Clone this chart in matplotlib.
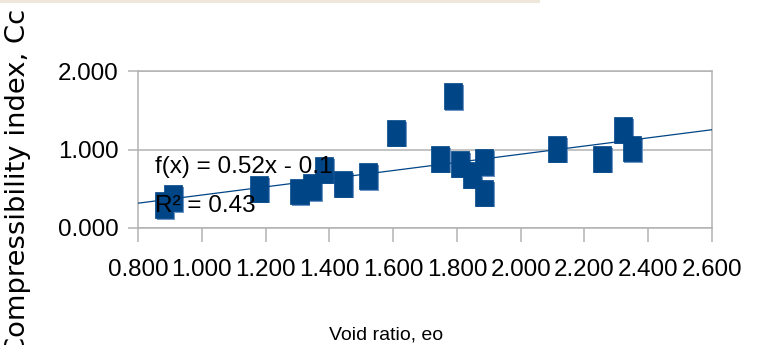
import matplotlib
matplotlib.use('Agg')
import matplotlib.pyplot as plt
import matplotlib.patheffects as pe
from matplotlib import font_manager as fm
from matplotlib.patches import Rectangle

# data
void_ratio = [0.882, 0.910, 1.179, 1.306, 1.345, 1.383, 1.443, 1.521, 1.609, 1.747,
              1.787, 1.809, 1.847, 1.885, 1.885, 2.113, 2.255, 2.320, 2.349]
cc = [0.29, 0.38, 0.50, 0.465, 0.52, 0.74, 0.56, 0.66, 1.21, 0.88,
      1.68, 0.815, 0.675, 0.84, 0.446, 1.006, 0.88, 1.25, 1.01]
trend_slope = 0.52
trend_icpt = -0.1
x_ticks = [0.8, 1.0, 1.2, 1.4, 1.6, 1.8, 2.0, 2.2, 2.4, 2.6]
y_ticks = [0.0, 1.0, 2.0]


def pick_font(names):
    for name in names:
        try:
            fm.findfont(fm.FontProperties(family=name), fallback_to_default=False)
            return name
        except ValueError:
            continue
    return 'DejaVu Sans'


narrow = pick_font(['Liberation Sans Narrow', 'Liberation Sans'])
is_narrow = narrow == 'Liberation Sans Narrow'
tick_size = 21 if is_narrow else 17.4
eq_size = 21 if is_narrow else 17.5
xlab_size = 17 if is_narrow else 14

blue = '#004586'
shadow = '#6b93c4'
grey = '#b3b3b3'

fig = plt.figure(figsize=(7.58, 3.45), dpi=100)
ax = fig.add_axes([138/758, 1 - 228/345, 574/758, 157/345])

# faint strip at the very top of the picture
fig.patches.append(Rectangle((0, 1 - 3/345), 540/758, 3/345, transform=fig.transFigure,
                             facecolor='#efe7dc', edgecolor='none'))

ax.set_xlim(0.8, 2.6)
ax.set_ylim(0, 2)
ax.set_xticks(x_ticks)
ax.set_yticks(y_ticks)
ax.set_xticklabels(['%.3f' % v for v in x_ticks], fontfamily=narrow, fontsize=tick_size)
ax.set_yticklabels(['%.3f' % v for v in y_ticks], fontfamily=narrow, fontsize=tick_size)
ax.tick_params(axis='x', direction='out', length=10, width=1.1, color=grey, pad=12)
ax.tick_params(axis='y', direction='out', length=7.5, width=1.1, color=grey, pad=6.5)
ax.yaxis.grid(True, color=grey, linewidth=1.1)
ax.set_axisbelow(True)
for s in ax.spines.values():
    s.set_color(grey)
    s.set_linewidth(1.1)

# trend line
xs = [0.8, 2.6]
ax.plot(xs, [trend_slope * v + trend_icpt for v in xs], color=blue, linewidth=0.9, zorder=4)

# rectangular markers with a light offset shadow
rect = [(-0.36, -0.5), (0.36, -0.5), (0.36, 0.5), (-0.36, 0.5), (-0.36, -0.5)]
ax.plot(void_ratio, cc, linestyle='none', marker=rect, markersize=18.4,
        markerfacecolor=blue, markeredgecolor=blue, markeredgewidth=0.5, zorder=3,
        path_effects=[pe.SimplePatchShadow(offset=(1.2, -1.2), shadow_rgbFace=shadow, alpha=1.0),
                      pe.Normal()])

ax.text(0.853, 0.70, 'f(x) = 0.52x - 0.1', fontfamily=narrow, fontsize=eq_size,
        va='baseline', ha='left', zorder=6)
ax.text(0.853, 0.20, 'R² = 0.43', fontfamily=narrow, fontsize=eq_size,
        va='baseline', ha='left', zorder=6)

ax.set_xlabel('Void ratio, eo', fontfamily=narrow, fontsize=xlab_size, va='baseline')
ax.xaxis.set_label_coords((386 - 138) / 574, (228 - 340) / 157)
ax.set_ylabel('Compressibility index, Cc', fontfamily='DejaVu Sans', fontsize=19.7, va='center')
ax.yaxis.set_label_coords((18 - 138) / 574, (228 - 182.5) / 157)

fig.savefig('out.png', dpi=100)
